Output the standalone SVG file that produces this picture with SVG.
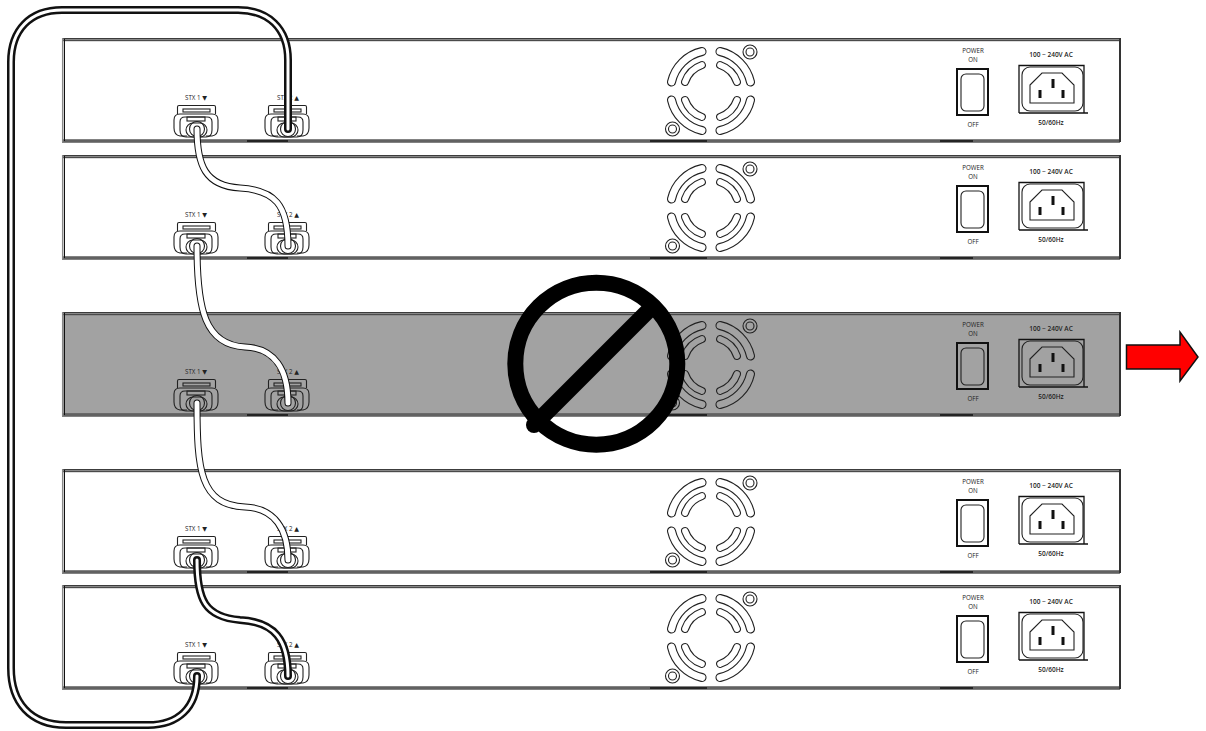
<svg xmlns="http://www.w3.org/2000/svg" width="1206" height="731" viewBox="0 0 1206 731">
<style>
text{font-family:"Open Sans","DejaVu Sans",sans-serif;font-size:6.200px;fill:#222;text-anchor:middle}
.b{font-weight:600;font-size:6.500px}
.a{fill:none;stroke:#222;stroke-width:1.100}
.ck{fill:none;stroke:#111;stroke-width:8;stroke-linecap:round;stroke-linejoin:round}
.cw{fill:none;stroke:#fff;stroke-width:3;stroke-linecap:round}
.lk{fill:none;stroke:#111;stroke-width:7;stroke-linecap:round}
.lw{fill:none;stroke:#fff;stroke-width:5;stroke-linecap:round}
</style>
<defs>
<g id="plug">
<path class="a" d="M177.500 114V107Q177.500 105.500 179 105.500H214Q215.500 105.500 215.500 107V114"/>
<rect class="a" x="183" y="109" width="27" height="3"/>
<path class="a" d="M187 136H180Q174 135 174 128V120Q174 114 180 114H212Q218 114 218 120V128Q218 135 212 136H206"/>
<path class="a" d="M180 130V122Q180 117 185 117H207Q212 117 212 122V130Q212 137 206 137H186Q180 137 180 130Z"/>
<rect class="a" x="187" y="117" width="18" height="4"/>
<rect class="a" x="186" y="123" width="21" height="14" rx="7"/>
<circle class="a" cx="197" cy="129" r="7.500"/>
</g>
<path id="q1" class="a" d="M-9.900-43.400A44.500 44.500 0 0 0-43.400-9.900A4 4 0 0 0-35.600-8.100A36.500 36.500 0 0 1-8.100-35.600A4 4 0 0 0-9.900-43.400Z"/>
<path id="q2" class="a" d="M-10.100-29.300A31 31 0 0 0-29.300-10.100A3.500 3.500 0 0 0-22.700-7.800A24 24 0 0 1-7.800-22.700A3.500 3.500 0 0 0-10.100-29.300Z"/>
<g id="quad"><use href="#q1"/><use href="#q2"/></g>
<g id="art">
<path d="M62 39.500H1120M62 141H1120" stroke="#888" stroke-width="3" fill="none"/>
<path d="M62 38.500H1120M62 40.700H1120M62 140H1120M62 142H1120" stroke="#333" stroke-width="0.900" fill="none"/>
<path d="M62.700 38V142" stroke="#888" stroke-width="1.500" fill="none"/>
<path d="M64.500 39V141" stroke="#111" stroke-width="1" fill="none"/>
<path d="M1120 38V142" stroke="#333" stroke-width="2" fill="none"/>
<path d="M247 141H288M650 141H707M940 141H973" stroke="#111" stroke-width="1.600" fill="none"/>
<use href="#plug"/>
<use href="#plug" x="91"/>
<g transform="translate(711 91)">
<use href="#quad"/>
<use href="#quad" transform="rotate(90)"/>
<use href="#quad" transform="rotate(180)"/>
<use href="#quad" transform="rotate(270)"/>
</g>
<circle class="a" cx="750" cy="52" r="7"/><circle class="a" cx="750" cy="52" r="4"/>
<circle class="a" cx="672.500" cy="129" r="7"/><circle class="a" cx="672.500" cy="129" r="4"/>
<rect x="957" y="69" width="31" height="46" fill="none" stroke="#111" stroke-width="2"/>
<rect class="a" x="961" y="74" width="23" height="37" rx="5"/>
<path d="M1019 113V65.500H1084V113M1019 113H1088" fill="none" stroke="#111" stroke-width="1.300"/>
<rect class="a" x="1022" y="67" width="61" height="44" rx="8"/>
<path class="a" d="M1030 85L1042 73H1062L1074 85V103H1030Z"/>
<rect x="1051.500" y="79" width="3" height="9" fill="#111"/>
<rect x="1038.500" y="90" width="3" height="8" fill="#111"/>
<rect x="1061.500" y="90" width="3" height="8" fill="#111"/>
</g>
</defs>

<g id="unit-1">
<use href="#art"/>
<text x="196" y="100">STX 1 ▼</text><text x="288" y="100">STX 2 ▲</text>
<text x="973" y="53">POWER</text><text x="973" y="62">ON</text><text x="973" y="127">OFF</text>
<text x="1051" y="57" class="b">100 ~ 240V AC</text><text x="1051" y="125" class="b">50/60Hz</text>
</g>
<g id="unit-2" transform="translate(0 117)">
<use href="#art"/>
<text x="196" y="100">STX 1 ▼</text><text x="288" y="100">STX 2 ▲</text>
<text x="973" y="53">POWER</text><text x="973" y="62">ON</text><text x="973" y="127">OFF</text>
<text x="1051" y="57" class="b">100 ~ 240V AC</text><text x="1051" y="125" class="b">50/60Hz</text>
</g>
<g id="unit-3" transform="translate(0 274)">
<rect x="62" y="39" width="1058" height="102" fill="#a2a2a2"/>
<use href="#art"/>
<text x="196" y="100">STX 1 ▼</text><text x="288" y="100">STX 2 ▲</text>
<text x="973" y="53">POWER</text><text x="973" y="62">ON</text><text x="973" y="127">OFF</text>
<text x="1051" y="57" class="b">100 ~ 240V AC</text><text x="1051" y="125" class="b">50/60Hz</text>
</g>
<g id="unit-4" transform="translate(0 431)">
<use href="#art"/>
<text x="196" y="100">STX 1 ▼</text><text x="288" y="100">STX 2 ▲</text>
<text x="973" y="53">POWER</text><text x="973" y="62">ON</text><text x="973" y="127">OFF</text>
<text x="1051" y="57" class="b">100 ~ 240V AC</text><text x="1051" y="125" class="b">50/60Hz</text>
</g>
<g id="unit-5" transform="translate(0 547)">
<use href="#art"/>
<text x="196" y="100">STX 1 ▼</text><text x="288" y="100">STX 2 ▲</text>
<text x="973" y="53">POWER</text><text x="973" y="62">ON</text><text x="973" y="127">OFF</text>
<text x="1051" y="57" class="b">100 ~ 240V AC</text><text x="1051" y="125" class="b">50/60Hz</text>
</g>

<g id="prohibited">
<circle cx="596.300" cy="363.700" r="81" fill="none" stroke="#000" stroke-width="16"/>
<path d="M534 425L652 307" fill="none" stroke="#000" stroke-width="16" stroke-linecap="round"/>
</g>
<g id="arrow">
<path d="M1126.500 345H1180V332L1198 357L1180 381V369H1126.500Z" fill="#f00" stroke="#111" stroke-width="1.500"/>
</g>

<g id="connectors">
<path class="ck" d="M288 129V60C288 28 268 10 238 10H62C30 10 11 30 11 62V668C11 702 30 725 66 725H148C178 725 197 708 197 676"/>
<path class="cw" d="M288 129V60C288 28 268 10 238 10H62C30 10 11 30 11 62V668C11 702 30 725 66 725H148C178 725 197 708 197 676"/>
<path class="lk" d="M197 129C197 165 205 186 240 188C275 190 288 205 288 246"/>
<path class="lw" d="M197 129C197 165 205 186 240 188C275 190 288 205 288 246"/>
<path class="lk" d="M197 246C197 310 205 345 245 347C275 348 288 370 288 403"/>
<path class="lw" d="M197 246C197 310 205 345 245 347C275 348 288 370 288 403"/>
<path class="lk" d="M197 403C197 470 200 505 245 507C275 508 288 530 288 560"/>
<path class="lw" d="M197 403C197 470 200 505 245 507C275 508 288 530 288 560"/>
<path class="ck" d="M197 560C197 600 205 617 240 620C275 622 288 640 288 676"/>
<path class="cw" d="M197 560C197 600 205 617 240 620C275 622 288 640 288 676"/>
</g>
</svg>
